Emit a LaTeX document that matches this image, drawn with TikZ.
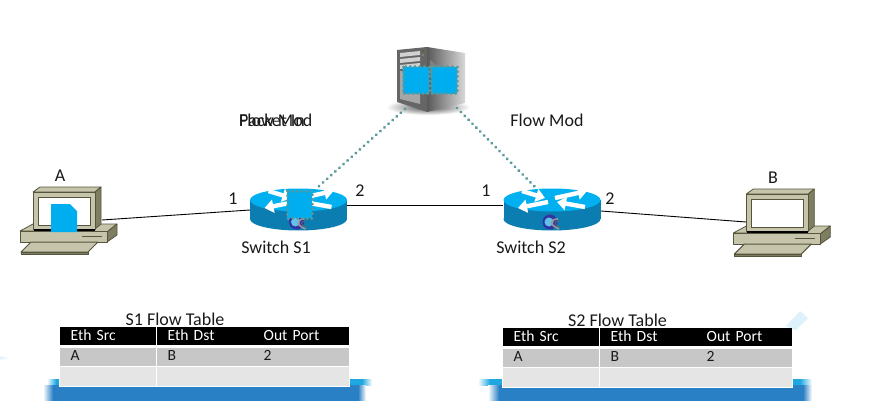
\documentclass[tikz,border=0pt]{standalone}
\usepackage{fontspec}
\setmainfont{Carlito}
\usetikzlibrary{arrows.meta}
\definecolor{pcfront}{HTML}{C6C5AC}
\definecolor{pcside}{HTML}{7E7E60}
\definecolor{pcedge}{HTML}{55553D}
\definecolor{swtop}{HTML}{00B0F0}
\definecolor{swside}{HTML}{0B7DB0}
\definecolor{msgblue}{HTML}{00AEEF}
\definecolor{ctrl}{HTML}{5A9A9C}
\definecolor{bandd}{HTML}{2A80C4}
\definecolor{bandl}{HTML}{1EA7E0}
\tikzset{
  x=1pt,y=-1pt,
  label/.style={font=\fontsize{18}{21}\selectfont,inner sep=0pt,text=black!90},
  link/.style={draw=black,line width=.9pt},
  ctrllink/.style={draw=ctrl,line width=3.2pt,line cap=round,dash pattern=on 0.1pt off 5.4pt},
  msg/.style={fill=msgblue,draw=ctrl,line width=3pt,line cap=round,dash pattern=on 0.1pt off 4.6pt},
  pcpart/.style={draw=pcedge,line width=.8pt,fill=pcfront,line join=round},
  swarrow/.style={draw=white,line width=4.4pt,-{Triangle[length=9pt,width=13pt]}},
  cellbase/.style={anchor=north west,inner ysep=0pt,inner xsep=10.5pt,text width=75pt,align=left,minimum width=96pt,text height=11pt,text depth=3pt,font=\fontsize{15.6}{18}\selectfont},
  headcell/.style={cellbase,fill=black,text=white,minimum height=18pt},
  rowa/.style={cellbase,fill=black!22,text=black!90,minimum height=17.5pt},
  rowb/.style={cellbase,fill=black!10,minimum height=18.5pt},
  computer/.pic={
    \draw[pcpart] (33,231) -- (20,231) -- (33,224) -- (117,224) -- (107,232) -- cycle;
    \draw[pcpart,fill=pcside] (107,232) -- (117,224) -- (117,235) -- (107,242) -- cycle;
    \draw[pcpart] (20,231) rectangle (107,242);
    \draw[pcpart,line width=1pt] (21,252) -- (31,242) -- (98,242) -- (88,252) -- cycle;
    \draw[pcpart,fill=pcside] (21,252) rectangle (88,254);
    \draw[pcedge,line width=1pt] (82,236) -- (102,236);
    \draw[pcpart] (33,192) -- (40,187) -- (101,187) -- (95,192) -- cycle;
    \draw[pcpart,fill=pcside] (95,192) -- (101,187) -- (101,224) -- (95,229) -- cycle;
    \draw[pcpart] (33,192) rectangle (95,229);
    \draw[draw=pcedge,line width=1pt,fill=white] (38,197) rectangle (90,225);
    \draw[black,line width=1.2pt] (34,230) -- (95,230);
  },
  netswitch/.pic={
    \fill[swside] (0,19) ellipse[x radius=48.5,y radius=11.5];
    \fill[swside] (-48.5,0) rectangle (48.5,19);
    \fill[swtop] (0,0) ellipse[x radius=48.5,y radius=11.5];
    \draw[swarrow] (-30,-9) -- (-7,-2);
    \draw[swarrow] (33,7) -- (5,2);
    \draw[swarrow] (3,-2) -- (35,-9);
    \draw[swarrow] (-4,2) -- (-34,8);
    \fill[blue!55!black!80] (-2,22) circle[radius=7.5];
    \fill[bandl!70] (-3,22) circle[radius=4.5];
    \draw[black!40,line width=1.6pt] (6,19) .. controls (-2,19) and (-3,25) .. (7,29);
    \draw[black!60,line width=.8pt] (7,21) .. controls (2,21) and (1,25) .. (8,27);
  },
  flowtable/.pic={
    \fill[white] (-1.5,38) rectangle (289.5,60);
    \node[headcell] (h1) at (0,0) {Eth Src};
    \node[headcell] (h2) at (97,0) {Eth Dst};
    \node[headcell,minimum width=95pt] (h3) at (193,0) {Out Port};
    \node[rowa] (a1) at (0,21) {A};
    \node[rowa] (a2) at (97,21) {B};
    \node[rowa,minimum width=96pt] (a3) at (193,21) {2};
    \node[rowb] (b1) at (0,40) {};
    \node[rowb] (b2) at (97,40) {};
    \node[rowb,minimum width=96pt] (b3) at (193,40) {};
  }
}
\begin{document}
\begin{tikzpicture}
\useasboundingbox (0,0) rectangle (880,401);
% faint artefacts
\fill[bandl!12] (0,356) -- (8,358) -- (0,360) -- cycle;
\fill[bandl!15] (786,326) -- (800,311) -- (808,318) -- (796,330) -- (791,329) -- cycle;
% bands
\shade[left color=white,right color=bandl] (47,379) rectangle (56,385);
\fill[bandl] (56,379) rectangle (362,385);
\shade[left color=bandl,right color=white] (362,379) rectangle (372,385);
\shade[left color=white,right color=bandd] (43,385) rectangle (53,401);
\fill[bandd] (53,385) rectangle (358,401);
\shade[left color=bandd,right color=white] (358,385) rectangle (366,401);
\shade[left color=white,right color=bandl] (478,379) rectangle (490,385);
\fill[bandl] (490,379) rectangle (800,385);
\shade[left color=bandl,right color=white] (800,379) rectangle (812,385);
\shade[left color=white,right color=bandd] (488,385) rectangle (499,401);
\fill[bandd] (499,385) rectangle (803,401);
\shade[left color=bandd,right color=white] (803,385) rectangle (812,401);

% named ends
\coordinate (aport) at (102,220);
\coordinate (bport) at (746,222);
\coordinate (s1l) at (250,210);
\coordinate (s1r) at (347,205.6);
\coordinate (s2l) at (503,205.6);
\coordinate (s2r) at (601,211);
\coordinate (s1c) at (318,187);
\coordinate (s2c) at (536,188);
\coordinate (srvl) at (405,109);
\coordinate (srvr) at (457,108);

\draw[link] (aport) -- (s1l);
\draw[link] (s1r) -- (s2l);
\draw[link] (s2r) -- (bport);

% computers
\pic (pca) at (0,0) {computer};
\pic (pcb) at (713.3,2) {computer};
\fill[msgblue] (51,204) -- (70,204) -- (77,211) -- (77,232) -- (51,232) -- cycle;

% switches
\pic (sw1) at (298.5,200) {netswitch};
\pic (sw2) at (552,200) {netswitch};
\draw[msg] (287,191) rectangle (312,218);

% server
\shade[inner color=black!70,outer color=white] (428,107) ellipse[x radius=42,y radius=8];
\fill[black!60] (397,50) -- (427,47) -- (427,112) -- (397,102) -- cycle;
\shade[left color=black!65,right color=black!15] (427,47) -- (465,53) -- (465,103) -- (427,112) -- cycle;
\fill[black!50] (430,60) -- (445,72) -- (430,75) -- cycle;
\fill[black!18] (400,53) -- (420,51) -- (420,55) -- (400,57) -- cycle;
\fill[black!18] (400,59) -- (420,57) -- (420,61) -- (400,63) -- cycle;
\fill[black!18] (400,65) -- (420,63) -- (420,67) -- (400,69) -- cycle;
\fill[black!35] (400,71) -- (420,69) -- (420,104) -- (400,99) -- cycle;
\fill[olive!60!black] (423,51) circle[radius=1.4];
\fill[black!50] (423,55) circle[radius=1.4];
\draw[msg] (403,67) rectangle (429,94);
\draw[msg] (431,67) rectangle (457,94);

\draw[ctrllink] (srvl) -- (s1c);
\draw[ctrllink] (srvr) -- (s2c);

% labels
\node[label] (la) at (60,176) {A};
\node[label] (lb) at (773,178) {B};
\node[label] (p11) at (233,199) {1};
\node[label] (p12) at (360,191) {2};
\node[label] (p21) at (486,191) {1};
\node[label] (p22) at (610,199) {2};
\node[label] (ns1) at (276,247) {Switch S1};
\node[label] (ns2) at (531,247) {Switch S2};
\node[label,anchor=west] (pin) at (239,120) {Packet In};
\node[label,anchor=west] (fm1) at (239,120) {Flow Mod};
\node[label] (fm2) at (547,120) {Flow Mod};
\node[label] (t1) at (175,319.5) {S1 Flow Table};
\node[label] (t2) at (617.5,320.5) {S2 Flow Table};

% tables
\pic (st) at (60,327) {flowtable};
\pic (dt) at (503,328) {flowtable};
\end{tikzpicture}
\end{document}
